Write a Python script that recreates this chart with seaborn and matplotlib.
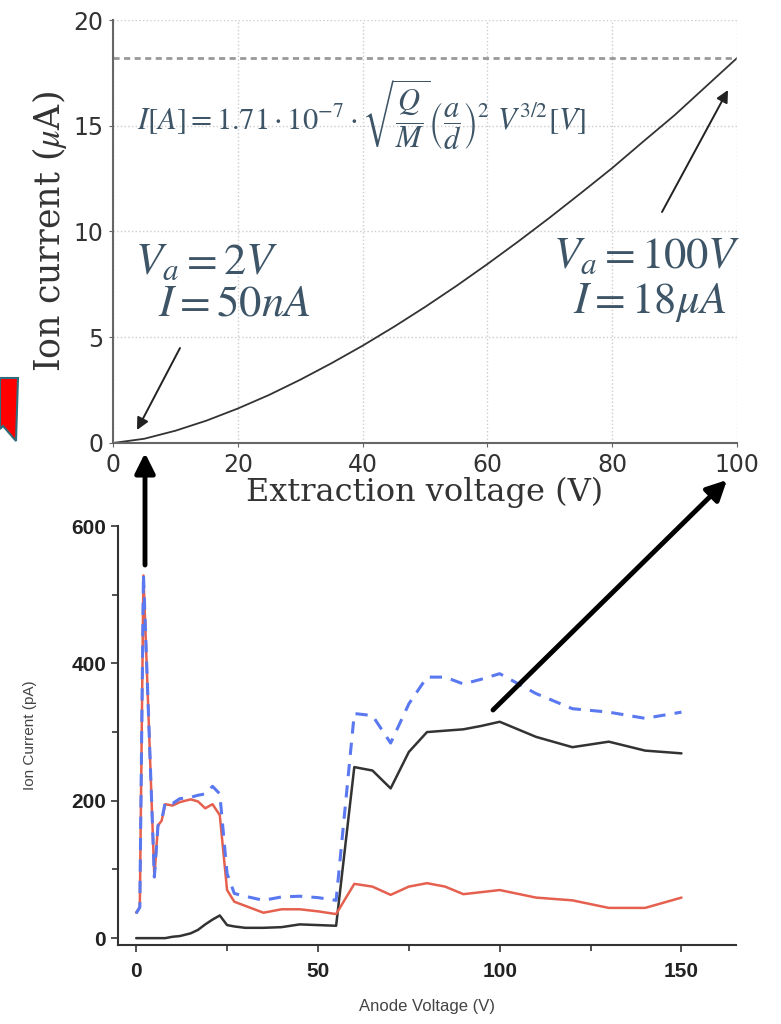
import matplotlib
matplotlib.use("Agg")
import matplotlib.pyplot as plt
from matplotlib.patches import Polygon
import pandas as pd
import seaborn as sns

# top panel: extraction curve
extraction_v = [0, 5, 10, 15, 20, 25, 30, 35, 40, 45, 50, 55, 60, 65, 70, 75, 80, 85, 90, 95, 100]
ion_current_ua = [0, 0.2, 0.58, 1.06, 1.63, 2.27, 2.99, 3.77, 4.6, 5.49, 6.43, 7.42, 8.46,
                  9.54, 10.66, 11.82, 13.0, 14.26, 15.5, 16.85, 18.2]
limit_current = 18.2

# bottom panel: measured ion current vs anode voltage
anode_v = [0, 1, 2, 5, 6, 7, 8, 10, 12, 15, 17, 19, 21, 23, 25, 27, 30, 35, 40, 45, 50, 55,
           60, 65, 70, 75, 80, 85, 90, 95, 100, 110, 120, 130, 140, 150]
red_pa = [37, 45, 528, 89, 164, 171, 195, 193, 198, 202, 199, 189, 195, 179, 70, 53, 47, 37, 42, 42, 39, 35,
          79, 75, 63, 75, 80, 75, 64, 67, 70, 59, 55, 44, 44, 59]
blue_pa = [36, 45, 530, 89, 164, 171, 198, 196, 203, 205, 208, 210, 221, 210, 94, 65, 61, 55, 60, 61, 59, 55,
           327, 324, 284, 341, 380, 380, 370, 377, 385, 356, 334, 329, 320, 329]
black_pa = [0, 0, 0, 0, 0, 0, 0, 2, 3, 7, 12, 20, 27, 33, 19, 17, 15, 15, 16, 20, 19, 18,
            249, 244, 218, 271, 300, 302, 304, 309, 315, 293, 278, 286, 273, 269]

sns.set_style("ticks")
plt.rcParams["mathtext.fontset"] = "stix"

W, H = 781, 1024
fig = plt.figure(figsize=(W / 100, H / 100), dpi=100)

def fx(px):
    return px / W

def fy(py):
    return 1 - py / H

# ---------- top panel ----------
ax1 = fig.add_axes([fx(113), fy(443), fx(737) - fx(113), fy(20) - fy(443)])
top_df = pd.DataFrame({"V": extraction_v, "I": ion_current_ua})
sns.lineplot(data=top_df, x="V", y="I", ax=ax1, color="#333333", linewidth=1.3)
ax1.axhline(limit_current, color="#999999", linewidth=2, linestyle=(0, (2.2, 1.6)))
ax1.set_xlim(0, 100)
ax1.set_ylim(0, 20)
ax1.set_xticks([0, 20, 40, 60, 80, 100])
ax1.set_yticks([0, 5, 10, 15, 20])
ax1.grid(True, linestyle=":", color="#cccccc", linewidth=1)
for s in ["top", "right"]:
    ax1.spines[s].set_visible(False)
for s in ["left", "bottom"]:
    ax1.spines[s].set_color("#666666")
    ax1.spines[s].set_linewidth(1.5)
ax1.tick_params(length=3, color="#666666", labelsize=17, labelcolor="#333333", pad=4)
ax1.set_xlabel("Extraction voltage (V)", family="DejaVu Serif", fontsize=23, color="#333333", labelpad=0)
ax1.set_ylabel(r"Ion current ($\mu$A)", family="DejaVu Serif", fontsize=25, color="#333333", labelpad=3)

txt_col = "#3d5567"
fig.text(fx(137), fy(115), r"$I[A] = 1.71 \cdot 10^{-7} \cdot \sqrt{\dfrac{Q}{M}}\left(\dfrac{a}{d}\right)^2\ V^{3/2}[V]$",
         fontsize=22, color=txt_col, va="center", ha="left")
fig.text(fx(135), fy(262), r"$V_a = 2V$", fontsize=32, color=txt_col, va="center", ha="left")
fig.text(fx(158), fy(303), r"$I = 50nA$", fontsize=32, color=txt_col, va="center", ha="left")
fig.text(fx(740), fy(255), r"$V_a = 100V$", fontsize=32, color=txt_col, va="center", ha="right")
fig.text(fx(727), fy(303), r"$I = 18\mu A$", fontsize=32, color=txt_col, va="center", ha="right")

thin = dict(arrowstyle="-|>", color="#222222", lw=1.4, mutation_scale=18, shrinkA=0, shrinkB=0)
ax1.annotate("", xy=(fx(137), fy(430)), xytext=(fx(180), fy(348)), xycoords="figure fraction",
             textcoords="figure fraction", arrowprops=thin)
ax1.annotate("", xy=(fx(728), fy(90)), xytext=(fx(662), fy(212)), xycoords="figure fraction",
             textcoords="figure fraction", arrowprops=thin)

# ---------- bottom panel ----------
ax2 = fig.add_axes([fx(118), fy(945), fx(736) - fx(118), fy(526) - fy(945)])
bot_df = pd.DataFrame({"V": anode_v, "red": red_pa, "blue": blue_pa, "black": black_pa})
sns.lineplot(data=bot_df, x="V", y="black", ax=ax2, color="#333333", linewidth=1.8)
sns.lineplot(data=bot_df, x="V", y="red", ax=ax2, color="#e5604e", linewidth=1.8)
sns.lineplot(data=bot_df, x="V", y="blue", ax=ax2, color="#5a78f0", linewidth=2.2, linestyle=(0, (4, 3)))
ax2.set_xlim(-5, 165)
ax2.set_ylim(-10, 600)
ax2.set_xticks([0, 50, 100, 150])
ax2.set_xticks([25, 75, 125], minor=True)
ax2.set_yticks([0, 200, 400, 600])
ax2.set_yticks([100, 300, 500], minor=True)
for s in ["top", "right"]:
    ax2.spines[s].set_visible(False)
for s in ["left", "bottom"]:
    ax2.spines[s].set_color("#333333")
    ax2.spines[s].set_linewidth(1.5)
ax2.tick_params(which="major", length=5, width=1.2, color="#333333", labelsize=15, labelcolor="#222222")
ax2.tick_params(axis="x", which="major", pad=7)
ax2.tick_params(which="minor", length=4, width=1.2, color="#333333")
for lab in ax2.get_xticklabels() + ax2.get_yticklabels():
    lab.set_family("Liberation Sans")
    lab.set_fontweight("bold")
ax2.set_xlabel("Anode Voltage (V)", family="Liberation Sans", fontsize=12, color="#444444", labelpad=13)
ax2.set_ylabel("Ion Current (pA)", family="Liberation Sans", fontsize=11, color="#444444", labelpad=25)

# ---------- connecting arrows ----------
thick = dict(arrowstyle="-|>", color="black", lw=3.5, mutation_scale=30, shrinkA=0, shrinkB=0)
ax2.annotate("", xy=(fx(145), fy(453)), xytext=(fx(145), fy(565)), xycoords="figure fraction",
             textcoords="figure fraction", arrowprops=thick, annotation_clip=False)
ax2.annotate("", xy=(fx(727), fy(480)), xytext=(fx(493), fy(710)), xycoords="figure fraction",
             textcoords="figure fraction", arrowprops=thick, annotation_clip=False)

# red marker shape at left edge
marker = [(0, 378), (18, 378), (16, 441), (3, 426), (0, 429)]
fig.add_artist(Polygon([(fx(x), fy(y)) for x, y in marker], closed=True, facecolor="#ff0000",
                       edgecolor="#2f6d7d", linewidth=1.5, transform=fig.transFigure))

fig.savefig("out.png", dpi=100)
